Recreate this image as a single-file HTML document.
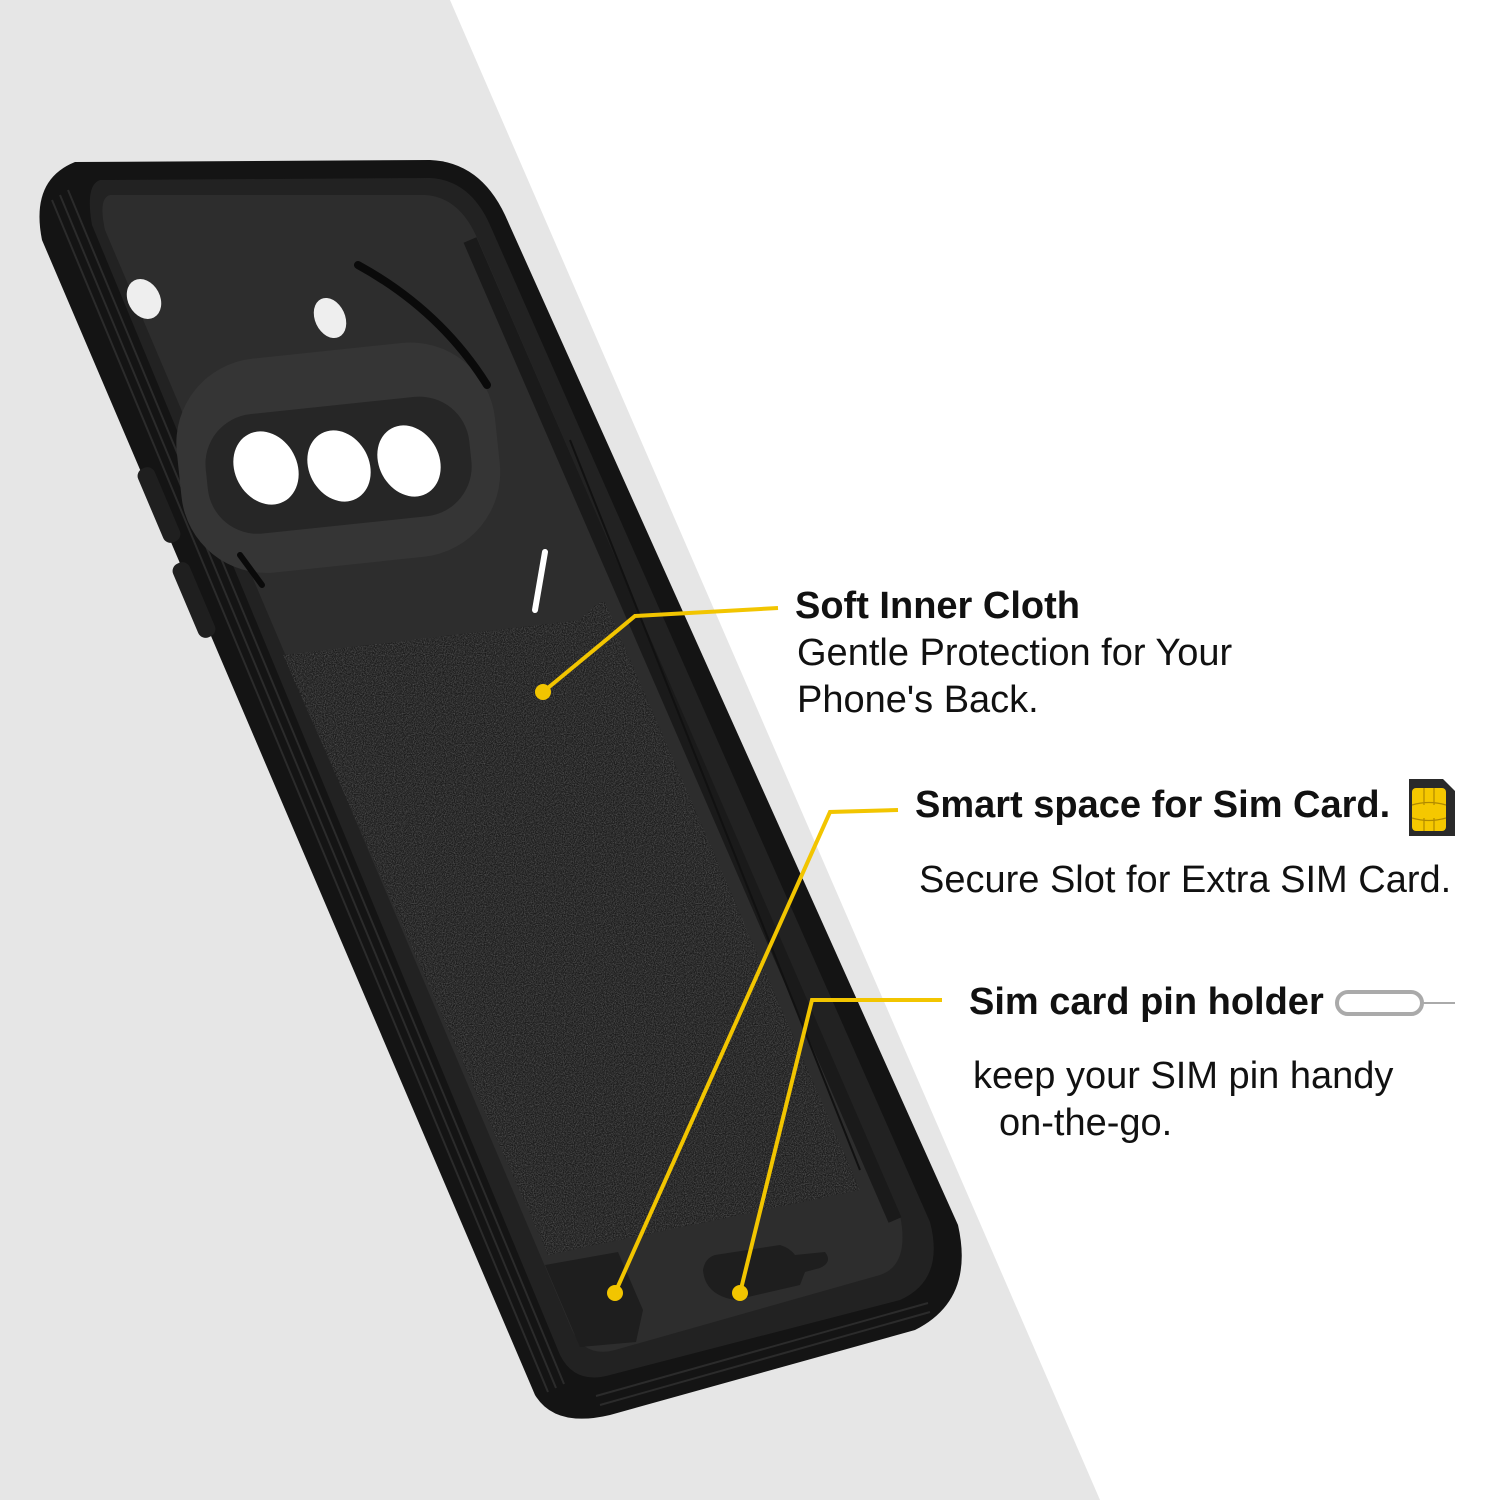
<!DOCTYPE html>
<html><head><meta charset="utf-8"><style>
html,body{margin:0;padding:0;width:1500px;height:1500px;overflow:hidden;background:#fff}
.t{position:absolute;font-family:"Liberation Sans",Arial,sans-serif;color:#111;font-size:38px;white-space:nowrap;line-height:1}
.b{font-weight:bold}
</style></head><body>
<svg width="1500" height="1500" style="position:absolute;left:0;top:0">
<defs>
<filter id="n" x="0" y="0" width="100%" height="100%">
<feTurbulence type="fractalNoise" baseFrequency="0.9" numOctaves="2" result="t"/>
<feColorMatrix type="matrix" values="0 0 0 0 0.17  0 0 0 0 0.17  0 0 0 0 0.17  0 0 0 1.2 -0.4"/>
<feComposite in2="SourceGraphic" operator="in"/>
</filter>
</defs>
<polygon points="0,0 450,0 1100,1500 0,1500" fill="#e6e6e6"/>
<path d="M75,162 L430,160 Q480,162 505,215 L958,1225 Q975,1300 915,1330 L610,1415 Q555,1428 535,1395 L42,240 Q30,180 75,162 Z" fill="#141414"/>
<g stroke="#2b2b2b" stroke-width="2" fill="none">
<path d="M52,200 L548,1392"/><path d="M60,195 L556,1388"/><path d="M68,190 L564,1384"/>
<path d="M600,1405 L930,1312"/><path d="M596,1396 L928,1303"/>
</g>
<path d="M100,180 L430,178 Q470,180 490,225 L930,1222 Q945,1280 900,1300 L610,1375 Q575,1385 560,1355 L92,225 Q85,185 100,180 Z" fill="#222"/>
<path d="M110,195 L425,195 Q460,197 478,240 L900,1215 Q910,1265 880,1275 L615,1350 Q585,1358 572,1330 L105,230 Q98,198 110,195 Z" fill="#2d2d2d"/>
<path d="M470,240 L895,1220" stroke="#1a1a1a" stroke-width="14"/>
<path d="M570,440 L860,1170" stroke="#111" stroke-width="2"/>
<path d="M283,655 L580,620 Q598,600 605,602 L860,1190 L548,1255 Z" fill="#1c1c1c"/>
<path d="M283,655 L580,620 Q598,600 605,602 L860,1190 L548,1255 Z" fill="#1c1c1c" filter="url(#n)"/>
<g transform="rotate(-6 340 455)">
<rect x="178" y="350" width="320" height="215" rx="85" fill="#353535"/>
<rect x="205" y="405" width="265" height="120" rx="50" fill="#262626"/>
</g>
<ellipse cx="266" cy="468" rx="31" ry="38" transform="rotate(-28 266 468)" fill="#fff"/>
<ellipse cx="339" cy="466" rx="30" ry="37" transform="rotate(-28 339 466)" fill="#fff"/>
<ellipse cx="409" cy="461" rx="30" ry="37" transform="rotate(-28 409 461)" fill="#fff"/>
<ellipse cx="144" cy="299" rx="16" ry="21" transform="rotate(-28 144 299)" fill="#eee"/>
<ellipse cx="330" cy="318" rx="15" ry="21" transform="rotate(-25 330 318)" fill="#eee"/>
<path d="M358,265 Q440,310 487,385" stroke="#0a0a0a" stroke-width="8" fill="none" stroke-linecap="round"/>
<path d="M545,552 L535,610" stroke="#fff" stroke-width="6" stroke-linecap="round"/>
<path d="M240,555 L262,585" stroke="#0a0a0a" stroke-width="6" stroke-linecap="round"/>
<rect x="150" y="465" width="18" height="80" rx="8" fill="#1f1f1f" transform="rotate(-23 159 505)"/>
<rect x="185" y="560" width="18" height="80" rx="8" fill="#1f1f1f" transform="rotate(-23 194 600)"/>
<path d="M545,1265 L618,1252 L643,1310 L636,1342 L580,1347 Z" fill="#1e1e1e"/>
<path d="M715,1255 L780,1245 Q790,1248 795,1255 L825,1252 Q833,1262 820,1268 L805,1272 L800,1285 L735,1300 Q705,1295 703,1270 Q705,1258 715,1255 Z" fill="#1e1e1e"/>
<g stroke="#f2c500" stroke-width="4" fill="none">
<polyline points="543,692 635,616 778,608"/>
<polyline points="615,1293 830,812 898,810"/>
<polyline points="740,1293 812,1000 942,1000"/>
</g>
<g fill="#f2c500"><circle cx="543" cy="692" r="8"/><circle cx="615" cy="1293" r="8"/><circle cx="740" cy="1293" r="8"/></g>
<path d="M1409,779 L1443,779 L1455,791 L1455,836 L1409,836 Z" fill="#2a2a2a"/>
<rect x="1412" y="788" width="34" height="43" rx="4" fill="#f5c800"/>
<path d="M1412,805 Q1429,800 1446,805 M1412,818 Q1429,823 1446,818 M1424,788 V805 M1434,788 V805 M1424,818 V831 M1434,818 V831" stroke="#b08a00" stroke-width="1.2" fill="none"/>
<rect x="1337" y="992" width="85" height="22" rx="11" fill="none" stroke="#aaa" stroke-width="4"/>
<path d="M1420,1003 L1455,1003" stroke="#aaa" stroke-width="2"/>
</svg>
<div class="t b" style="left:795px;top:587px">Soft Inner Cloth</div>
<div class="t" style="left:797px;top:634px">Gentle Protection for Your</div>
<div class="t" style="left:797px;top:681px">Phone's Back.</div>
<div class="t b" style="left:915px;top:786px">Smart space for Sim Card.</div>
<div class="t" style="left:919px;top:861px">Secure Slot for Extra SIM Card.</div>
<div class="t b" style="left:969px;top:983px">Sim card pin holder</div>
<div class="t" style="left:973px;top:1057px">keep your SIM pin handy</div>
<div class="t" style="left:999px;top:1104px">on-the-go.</div>
</body></html>
